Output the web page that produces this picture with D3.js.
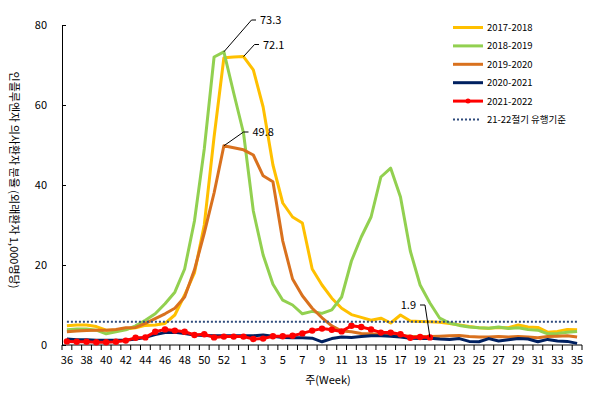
<!DOCTYPE html>
<html>
<head>
<meta charset="utf-8">
<script src="https://cdn.jsdelivr.net/npm/d3@7"></script>
<style>
  body { margin: 0; background: #fff; }
  text { font-family: "Noto Sans CJK KR", "Noto Sans", sans-serif; fill: #000; }
</style>
</head>
<body>
<div id="chart"></div>
<script>
// weeks of the season (2020 had a week 53)
const weeks = [36, 37, 38, 39, 40, 41, 42, 43, 44, 45, 46, 47, 48, 49, 50, 51, 52, 53,
  1, 2, 3, 4, 5, 6, 7, 8, 9, 10, 11, 12, 13, 14, 15, 16, 17, 18, 19, 20,
  21, 22, 23, 24, 25, 26, 27, 28, 29, 30, 31, 32, 33, 34, 35];

const s1718 = [4.8, 5.0, 5.0, 4.6, 3.7, 3.7, 4.0, 4.3, 4.9, 5.0, 5.4, 7.5, 12.5, 18, 30, 52, 71.8, 72.0,
  72.1, 68.8, 59.5, 45, 35.5, 32, 30.5, 19, 15, 11.7, 9.2, 7.6, 6.9, 6.2, 6.7, 5.5, 7.5, 6.0, 5.9, 5.8,
  5.7, 5.4, 5.0, 4.6, 4.3, 4.2, 4.4, 4.3, 5.0, 4.5, 4.4, 3.2, 3.4, 3.9, 3.8];

const s1819 = [3.8, 4.0, 4.0, 3.7, 2.8, 3.3, 3.8, 4.8, 6.2, 7.8, 10.3, 13.2, 19, 31, 49, 72, 73.3, 63,
  53, 33.5, 22.5, 15.2, 11.2, 10, 7.8, 8.4, 7.9, 8.8, 12, 21, 27, 32, 42, 44.2, 37, 23.5, 15, 10.5,
  6.7, 5.5, 4.9, 4.5, 4.3, 4.2, 4.5, 4.1, 4.3, 3.9, 3.7, 2.8, 2.9, 3.2, 3.4];

const s1920 = [3.3, 3.5, 3.6, 3.7, 3.7, 3.9, 4.3, 4.4, 5.4, 6.6, 7.8, 9.2, 12, 18.8, 28, 38, 49.8, 49.3,
  48.8, 47.5, 42.3, 40.8, 26, 16.5, 12.3, 9.2, 6.8, 4.8, 3.5, 3.3, 2.9, 2.8, 2.6, 2.6, 2.4, 2.2, 2.1, 2.1,
  2.2, 2.3, 2.4, 2.1, 2.0, 2.0, 2.1, 2.0, 2.1, 2.0, 1.8, 2.1, 2.2, 2.3, 2.0];

const s2021 = [1.5, 1.3, 1.3, 1.2, 1.2, 1.2, 1.2, 1.5, 1.9, 2.6, 3.1, 3.2, 2.9, 2.5, 2.4, 2.3, 2.3, 2.3,
  2.3, 2.3, 2.5, 2.2, 1.9, 1.8, 1.8, 1.7, 0.8, 1.6, 2.0, 1.9, 2.1, 2.3, 2.3, 2.2, 2.0, 1.7, 1.6, 1.7,
  1.5, 1.4, 1.6, 0.9, 0.8, 1.6, 1.0, 1.3, 1.6, 1.5, 0.8, 1.4, 1.0, 0.9, 0.4];

// current season, up to week 20
const s2122 = [0.9, 0.8, 0.8, 0.7, 0.7, 0.8, 1.1, 1.8, 1.9, 3.3, 3.9, 3.6, 3.3, 2.5, 2.7, 1.9, 2.1, 2.1,
  2.1, 1.5, 1.6, 2.2, 2.2, 2.3, 2.9, 3.6, 4.1, 3.8, 3.4, 4.8, 4.5, 3.9, 3.1, 3.1, 2.7, 1.8, 2.0, 1.9];

const threshold = 5.8;
const yTicks = [0, 20, 40, 60, 80];

const series = [
  { name: "2017-2018", values: s1718, color: "#FFC000" },
  { name: "2018-2019", values: s1819, color: "#92D050" },
  { name: "2019-2020", values: s1920, color: "#D9711E" },
  { name: "2020-2021", values: s2021, color: "#002060" },
  { name: "2021-2022", values: s2122, color: "#FF0000", marker: true }
];

const W = 594, H = 397;
const svg = d3.select("#chart").append("svg")
  .attr("width", W).attr("height", H);

const x = d3.scaleBand().domain(weeks).range([62, 582]);
const cx = w => x(w) + x.bandwidth() / 2;
const y = d3.scaleLinear().domain([0, 80]).range([345, 25]);

// y axis
const yAxis = svg.append("g")
  .attr("transform", "translate(62,0)")
  .call(d3.axisLeft(y).tickValues(yTicks).tickSize(-4).tickPadding(15));
yAxis.select(".domain").attr("stroke", "#000");
yAxis.selectAll("text").style("font-size", "11px");

// x axis: labels every other week, ticks on category borders
const xAxis = svg.append("g")
  .attr("transform", "translate(0,345)")
  .call(d3.axisBottom(x).tickValues(weeks.filter((d, i) => i % 2 === 0)).tickSize(0).tickPadding(11));
xAxis.select(".domain").attr("stroke", "#000").attr("d", "M62,0H582");
xAxis.selectAll("text").style("font-size", "11px");
xAxis.selectAll(".tick line").remove();
svg.append("g").selectAll("line")
  .data(weeks.map(w => x(w)).concat([x(weeks[weeks.length - 1]) + x.bandwidth()]))
  .enter().append("line")
  .attr("x1", d => d).attr("x2", d => d)
  .attr("y1", 345).attr("y2", 350)
  .attr("stroke", "#000");

// axis titles
svg.append("text")
  .attr("transform", "translate(10,180) rotate(90)")
  .attr("text-anchor", "middle")
  .style("font-size", "11px")
  .text("인플루엔자 의사환자 분율 (외래환자 1,000명당)");

svg.append("text")
  .attr("x", 328).attr("y", 384)
  .attr("text-anchor", "middle")
  .style("font-size", "11px")
  .text("주(Week)");

// lines
const line = d3.line()
  .defined(d => d != null)
  .x((d, i) => cx(weeks[i]))
  .y(d => y(d));

series.forEach(s => {
  svg.append("path")
    .datum(s.values)
    .attr("d", line)
    .attr("fill", "none")
    .attr("stroke", s.color)
    .attr("stroke-width", 3)
    .attr("stroke-linejoin", "round");
  if (s.marker) {
    svg.append("g").selectAll("circle")
      .data(s.values)
      .enter().append("circle")
      .attr("cx", (d, i) => cx(weeks[i]))
      .attr("cy", d => y(d))
      .attr("r", 3.2)
      .attr("fill", s.color);
  }
});

// epidemic threshold
svg.append("line")
  .attr("x1", cx(weeks[0])).attr("x2", cx(weeks[weeks.length - 1]))
  .attr("y1", y(threshold)).attr("y2", y(threshold))
  .attr("stroke", "#2F4B7C")
  .attr("stroke-width", 2)
  .attr("stroke-dasharray", "2,2");

// peak labels
function callout(values, week, ex, ey, hx, anchor) {
  const i = weeks.indexOf(week);
  const px = cx(week), py = y(values[i]);
  svg.append("polyline")
    .attr("points", [[px, py], [ex, ey], [hx, ey]].map(p => p.join(",")).join(" "))
    .attr("fill", "none").attr("stroke", "#000").attr("stroke-width", 1);
  svg.append("text")
    .attr("x", anchor === "end" ? hx - 4 : hx + 4)
    .attr("y", ey + 4)
    .attr("text-anchor", anchor)
    .style("font-size", "11px")
    .text(values[i].toFixed(1));
}
callout(s1819, 52, 251.5, 20, 256, "start");
callout(s1718, 1, 254.5, 44.5, 259, "start");
callout(s1920, 52, 243.5, 132, 248.5, "start");
callout(s2122, 20, 425, 305, 420, "end");

// legend
const legend = svg.append("g");
const rows = series.map(s => ({ name: s.name, color: s.color, marker: s.marker }))
  .concat([{ name: "21-22절기 유행기준", color: "#2F4B7C", dotted: true }]);
rows.forEach((r, i) => {
  const ly = 27.5 + i * 18.4;
  legend.append("line")
    .attr("x1", 453).attr("x2", r.dotted ? 480 : 483)
    .attr("y1", ly).attr("y2", ly)
    .attr("stroke", r.color)
    .attr("stroke-width", r.dotted ? 2 : 3)
    .attr("stroke-dasharray", r.dotted ? "2,2" : null);
  if (r.marker) {
    legend.append("circle").attr("cx", 468).attr("cy", ly).attr("r", 2.5).attr("fill", r.color);
  }
  legend.append("text")
    .attr("x", 487).attr("y", ly + 3.5)
    .style("font-size", "9.5px")
    .text(r.name);
});
</script>
</body>
</html>
